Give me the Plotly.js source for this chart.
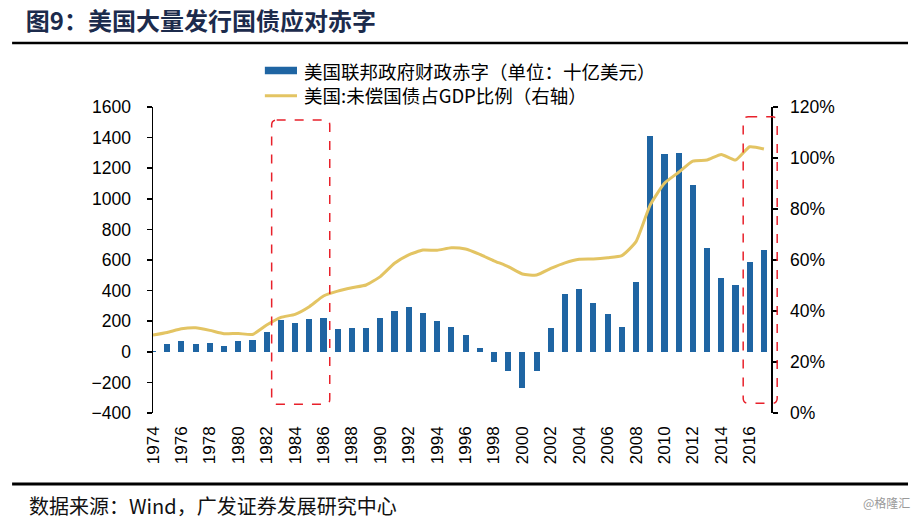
<!DOCTYPE html>
<html>
<head>
<meta charset="utf-8">
<script src="https://cdn.plot.ly/plotly-3.0.1.min.js"></script>
<style>html,body{margin:0;padding:0;background:#fff;}#chart{width:919px;height:523px;}</style>
</head>
<body>
<div id="chart"></div>
<script>
// ---- data ----
const years = [1974,1975,1976,1977,1978,1979,1980,1981,1982,1983,1984,1985,1986,1987,1988,1989,1990,1991,1992,1993,1994,1995,1996,1997,1998,1999,2000,2001,2002,2003,2004,2005,2006,2007,2008,2009,2010,2011,2012,2013,2014,2015,2016,2017];
const deficit = [6.1,53.2,73.7,53.7,59.2,40.7,73.8,79.0,128.0,207.8,185.4,212.3,221.2,149.7,155.2,152.6,221.0,269.2,290.3,255.1,203.2,164.0,107.4,21.9,-69.3,-125.6,-236.2,-128.2,157.8,377.6,412.7,318.3,248.2,160.7,458.6,1412.7,1294.4,1299.6,1087.0,679.5,484.6,438.5,584.7,665.7];
const debtRatio = [30.6,31.6,33.0,33.4,32.4,31.1,31.2,30.8,34.5,37.5,38.7,41.7,45.9,47.8,49.1,50.2,53.5,58.7,62.0,63.9,63.8,64.8,64.3,62.2,59.7,57.4,54.5,54.1,56.7,58.9,60.3,60.4,60.9,61.7,67.2,81.6,90.1,94.4,98.8,99.2,101.4,99.2,104.4,103.5];
const tickYears = [1974,1976,1978,1980,1982,1984,1986,1988,1990,1992,1994,1996,1998,2000,2002,2004,2006,2008,2010,2012,2014,2016];
const tickLabels = tickYears.map(String);
const seriesNames = ['美国联邦政府财政赤字（单位：十亿美元）','美国:未偿国债占GDP比例（右轴）'];
const titleText = '图9：美国大量发行国债应对赤字';
const sourceText = '数据来源：Wind，广发证券发展研究中心';

// ---- style ----
const BLUE = '#1f65a3';
const GOLD = '#e3c463';
const RED = '#e8212b';
const CJK = '"Noto Sans CJK SC", "Liberation Sans", sans-serif';
const NUM = '"Liberation Sans", Arial, sans-serif';

const traces = [
  {type:'bar', x:years, y:deficit, width:0.43, marker:{color:BLUE}, name:seriesNames[0], showlegend:false, hoverinfo:'x+y'},
  {type:'scatter', mode:'lines', x:years, y:debtRatio.map(v=>v/100), yaxis:'y2', line:{color:GOLD, width:3, shape:'spline', smoothing:0.5}, name:seriesNames[1], showlegend:false}
];

function roundRect(x0,y0,x1,y1){
  const rx = 5/618, ry = 5/306;
  return `M ${x0+rx} ${y1} L ${x1-rx} ${y1} Q ${x1} ${y1} ${x1} ${y1-ry} L ${x1} ${y0+ry} Q ${x1} ${y0} ${x1-rx} ${y0} L ${x0+rx} ${y0} Q ${x0} ${y0} ${x0} ${y0+ry} L ${x0} ${y1-ry} Q ${x0} ${y1} ${x0+rx} ${y1} Z`;
}

const layout = {
  width:919, height:523,
  margin:{l:153, r:148, t:107, b:110, pad:0},
  paper_bgcolor:'#fff', plot_bgcolor:'rgba(0,0,0,0)',
  showlegend:false,
  bargap:0,
  title:{text:titleText, font:{family:CJK, size:24, color:'#1c2b4c', weight:700}, xref:'container', yref:'container', x:0.028, xanchor:'left', y:1-22/523, yanchor:'middle'},
  xaxis:{range:[1974,2017.5], tickmode:'array', tickvals:tickYears, ticktext:tickLabels, tickangle:-90, ticks:'', showline:false, showgrid:false, zeroline:false, tickfont:{family:NUM, size:17, color:'#000'}, ticklabelstandoff:9, fixedrange:true},
  xaxis2:{overlaying:'x', anchor:'free', position:0.2, range:[1974,2017.5], tickmode:'array', tickvals:tickYears, showticklabels:false, ticks:'outside', ticklen:5, tickwidth:1.5, tickcolor:'#000', showline:true, linecolor:'#000', linewidth:1.5, showgrid:false, zeroline:false},
  yaxis:{range:[-400,1600], dtick:200, tick0:0, ticks:'outside', ticklen:5, tickwidth:1.5, tickcolor:'#000', showline:true, linecolor:'#000', linewidth:1.5, showgrid:false, zeroline:false, tickfont:{family:NUM, size:17.5, color:'#000'}, ticklabelstandoff:12},
  yaxis2:{overlaying:'y', side:'right', range:[0,1.2], dtick:0.2, tick0:0, tickformat:'.0%', ticks:'outside', ticklen:5, tickwidth:1.5, tickcolor:'#000', showline:true, linecolor:'#000', linewidth:1.5, showgrid:false, zeroline:false, tickfont:{family:NUM, size:17.5, color:'#000'}, ticklabelstandoff:9},
  shapes:[
    {type:'line', xref:'paper', yref:'paper', x0:-0.228, x1:1.2217, y0:1.209, y1:1.209, line:{color:'#000', width:2.5}},
    {type:'line', xref:'paper', yref:'paper', x0:-0.228, x1:1.2217, y0:-0.232, y1:-0.232, line:{color:'#000', width:3}},
    {type:'path', xref:'paper', yref:'paper', path:roundRect(0.192,0.0284,0.286,0.9575), line:{color:RED, width:1.5, dash:'dash'}},
    {type:'path', xref:'paper', yref:'paper', path:roundRect(0.955,0.0317,1.010,0.968), line:{color:RED, width:1.5, dash:'dash'}},
    {type:'rect', xref:'paper', yref:'paper', x0:0.181, x1:0.233, y0:1.1069, y1:1.1317, fillcolor:BLUE, line:{width:0}},
    {type:'line', xref:'paper', yref:'paper', x0:0.181, x1:0.233, y0:1.0369, y1:1.0369, line:{color:GOLD, width:3}}
  ],
  annotations:[
    {xref:'paper', yref:'paper', x:0.2427, y:1.1186, xanchor:'left', yanchor:'middle', text:seriesNames[0], showarrow:false, borderpad:0, font:{family:CJK, size:18.5, color:'#000'}},
    {xref:'paper', yref:'paper', x:0.2427, y:1.0376, xanchor:'left', yanchor:'middle', text:seriesNames[1], showarrow:false, borderpad:0, font:{family:CJK, size:18.5, color:'#000'}},
    {xref:'paper', yref:'paper', x:-0.204, y:-0.3007, xanchor:'left', yanchor:'middle', text:sourceText, showarrow:false, font:{family:CJK, size:20, color:'#111'}},
    {xref:'paper', yref:'paper', x:1.228, y:-0.294, xanchor:'right', yanchor:'middle', text:'@格隆汇', showarrow:false, font:{family:CJK, size:12, color:'#9a9a9a'}}
  ]
};

Plotly.newPlot('chart', traces, layout, {displayModeBar:false, staticPlot:true});
</script>
</body>
</html>
